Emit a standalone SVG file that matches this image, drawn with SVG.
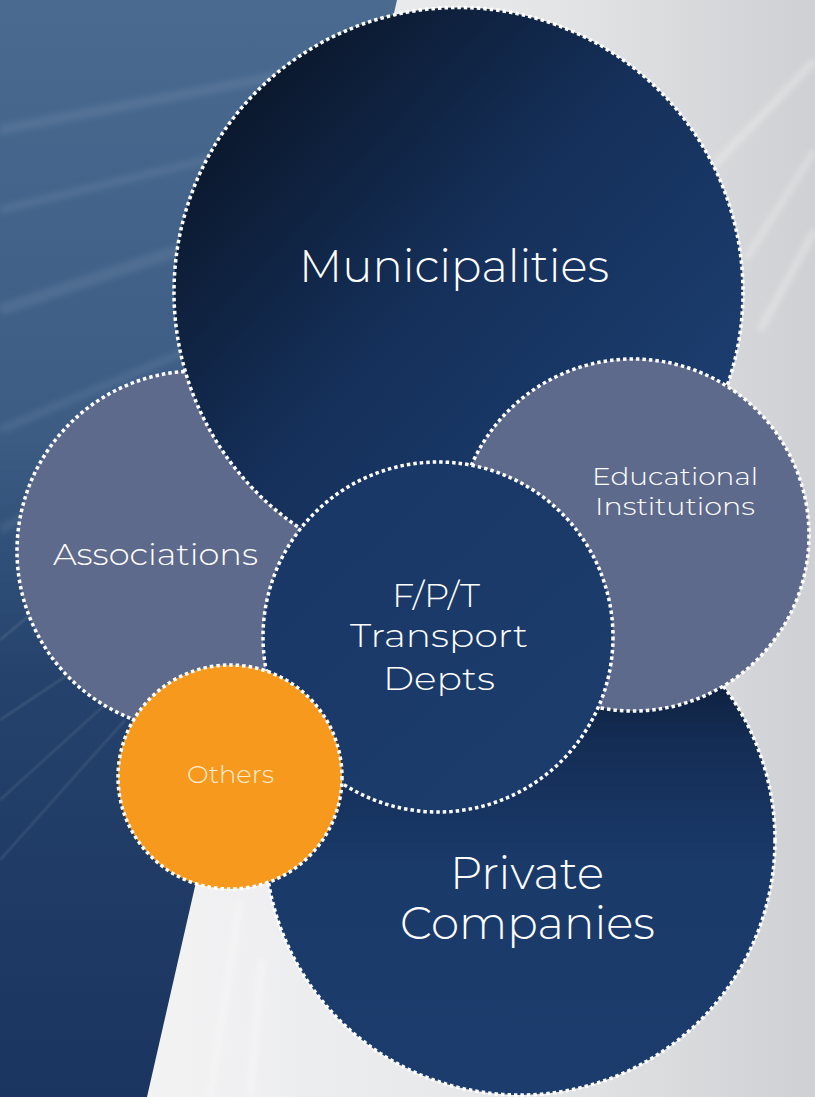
<svg xmlns="http://www.w3.org/2000/svg" width="815" height="1097" viewBox="0 0 815 1097">
<defs>
<style>
.ring{stroke:#ffffff;stroke-width:3.5;stroke-dasharray:3.5 3;}
.lbl{font-family:"Montserrat","Lato","Open Sans","Liberation Sans",sans-serif;font-weight:300;fill:#ffffff;text-anchor:middle;}
.streak{stroke:#ffffff;fill:none;}
</style>
<filter id="soft" x="-20%" y="-20%" width="140%" height="140%"><feGaussianBlur stdDeviation="3"/></filter>
<filter id="soft1" x="-20%" y="-20%" width="140%" height="140%"><feGaussianBlur stdDeviation="1"/></filter>
<linearGradient id="bgBlue" x1="0" y1="0" x2="0" y2="1">
<stop offset="0" stop-color="#4a6a90"/>
<stop offset="0.4" stop-color="#3c5c84"/>
<stop offset="0.62" stop-color="#24426b"/>
<stop offset="1" stop-color="#1a3560"/>
</linearGradient>
<linearGradient id="bgGray" x1="0" y1="0" x2="1" y2="0">
<stop offset="0" stop-color="#f3f3f4"/>
<stop offset="0.6" stop-color="#e4e5e7"/>
<stop offset="1" stop-color="#cfd0d3"/>
</linearGradient>
<linearGradient id="gMun" gradientUnits="userSpaceOnUse" x1="230" y1="80" x2="660" y2="480">
<stop offset="0" stop-color="#0a1629"/>
<stop offset="0.5" stop-color="#15305a"/>
<stop offset="1" stop-color="#1c3e70"/>
</linearGradient>
<linearGradient id="gPriv" gradientUnits="userSpaceOnUse" x1="0" y1="590" x2="0" y2="1095">
<stop offset="0" stop-color="#050d1a"/>
<stop offset="0.3" stop-color="#142d55"/>
<stop offset="0.55" stop-color="#1a3a6a"/>
<stop offset="1" stop-color="#1b3c6c"/>
</linearGradient>
<linearGradient id="gFpt" gradientUnits="userSpaceOnUse" x1="300" y1="470" x2="600" y2="800">
<stop offset="0" stop-color="#193766"/>
<stop offset="1" stop-color="#1c3d6d"/>
</linearGradient>
</defs>

<g id="background">
<rect x="0" y="0" width="815" height="1097" fill="url(#bgBlue)"/>
<g opacity="0.08" filter="url(#soft)">
<path class="streak" stroke-width="10" d="M0 130 L360 60"/>
<path class="streak" stroke-width="8" d="M0 210 L330 130"/>
<path class="streak" stroke-width="12" d="M0 310 L300 210"/>
<path class="streak" stroke-width="8" d="M0 430 L260 320"/>
<path class="streak" stroke-width="8" d="M0 530 L200 420"/>
</g>
<g opacity="0.18" filter="url(#soft1)">
<path class="streak" stroke-width="1.5" d="M0 640 L60 590"/>
<path class="streak" stroke-width="1.5" d="M0 720 L120 640"/>
<path class="streak" stroke-width="1.2" d="M0 860 L125 720"/>
<path class="streak" stroke-width="1.2" d="M0 800 L110 700"/>
</g>
<polygon points="397,0 815,0 815,1097 147,1097" fill="url(#bgGray)"/>
<g opacity="0.35" filter="url(#soft)">
<path class="streak" stroke-width="6" d="M815 60 L700 180"/>
<path class="streak" stroke-width="5" d="M815 150 L745 260"/>
<path class="streak" stroke-width="6" d="M815 230 L760 330"/>
<path class="streak" stroke-width="5" d="M210 1097 L240 900"/>
<path class="streak" stroke-width="6" d="M250 1097 L262 960"/>
</g>
</g>

<g id="node-associations">
<circle cx="197" cy="551" r="180" fill="#5e6a8c" class="ring"/>
<text class="lbl" x="155.5" y="565" font-size="30" textLength="205" lengthAdjust="spacingAndGlyphs">Associations</text>
</g>

<g id="node-municipalities">
<circle cx="458.5" cy="292" r="284.5" fill="url(#gMun)" class="ring"/>
<text class="lbl" x="454" y="282" font-size="46" textLength="310" lengthAdjust="spacingAndGlyphs">Municipalities</text>
</g>

<g id="node-private">
<circle cx="520" cy="840" r="255" fill="url(#gPriv)" class="ring"/>
<text class="lbl" x="527" y="889" font-size="45" textLength="154" lengthAdjust="spacingAndGlyphs">Private</text>
<text class="lbl" x="527.5" y="939" font-size="45" textLength="255" lengthAdjust="spacingAndGlyphs">Companies</text>
</g>

<g id="node-educational">
<circle cx="633" cy="535" r="176" fill="#5e6a8c" class="ring"/>
<text class="lbl" x="675" y="485" font-size="24" textLength="166" lengthAdjust="spacingAndGlyphs">Educational</text>
<text class="lbl" x="675" y="515" font-size="24" textLength="160" lengthAdjust="spacingAndGlyphs">Institutions</text>
</g>

<g id="node-fpt">
<circle cx="438" cy="637" r="175" fill="url(#gFpt)" class="ring"/>
<text class="lbl" x="436" y="607" font-size="33" textLength="88" lengthAdjust="spacingAndGlyphs">F/P/T</text>
<text class="lbl" x="439" y="647" font-size="33" textLength="178" lengthAdjust="spacingAndGlyphs">Transport</text>
<text class="lbl" x="439" y="690" font-size="33" textLength="112" lengthAdjust="spacingAndGlyphs">Depts</text>
</g>

<g id="node-others">
<circle cx="230" cy="777" r="112" fill="#f6991d" class="ring"/>
<text class="lbl" x="230.5" y="783" font-size="24" textLength="87" lengthAdjust="spacingAndGlyphs" style="fill:#fdeed6">Others</text>
</g>

<g id="connectors"></g>
</svg>
